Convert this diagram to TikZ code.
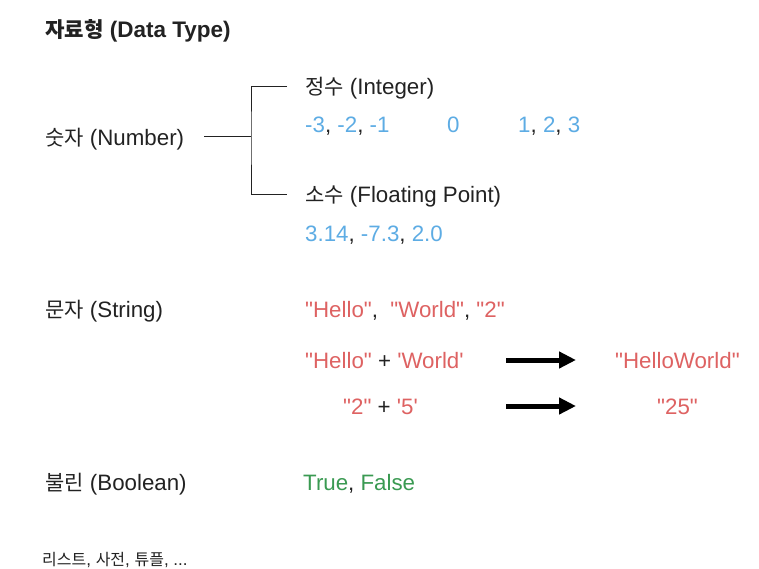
\documentclass[tikz,border=0pt]{standalone}
\usepackage{fontspec}
\setmainfont{Liberation Sans}
\newfontfamily\krfont{Noto Sans CJK KR}[Scale=0.94]
\newcommand\kor[1]{{\krfont #1}}
\newcommand\dq{\textquotedbl}
\newcommand\sq{\textquotesingle}
\usetikzlibrary{arrows.meta}
\definecolor{numblue}{RGB}{93,172,228}
\definecolor{strred}{RGB}{222,98,98}
\definecolor{boolgreen}{RGB}{58,154,82}
\definecolor{ink}{RGB}{34,34,34}
\begin{document}
\begin{tikzpicture}[x=1pt,y=-1pt,
  txt/.style={anchor=base west,inner sep=0pt,text=ink,font=\fontsize{22.3}{27}\selectfont},
  ttl/.style={txt,font=\fontsize{22.5}{27}\selectfont\bfseries},
  small/.style={txt,font=\fontsize{17}{20}\selectfont},
  tree/.style={draw=ink,line width=1pt},
  bigarrow/.style={draw=black,line width=5pt,-{Triangle[length=17pt,width=16pt]}}
]
\useasboundingbox[fill=white] (0,0) rectangle (759,568);

\node[ttl] (title) at (45,37) {\kor{자료형} (Data Type)};

% numbers
\node[txt] (num) at (45,145) {\kor{숫자} (Number)};
\node[txt] (int) at (305,94) {\kor{정수} (Integer)};
\node[txt] (intneg) at (305,132) {\textcolor{numblue}{-3}, \textcolor{numblue}{-2}, \textcolor{numblue}{-1}};
\node[txt] (intzero) at (447,132) {\textcolor{numblue}{0}};
\node[txt] (intpos) at (518,132) {\textcolor{numblue}{1}, \textcolor{numblue}{2}, \textcolor{numblue}{3}};
\node[txt] (flt) at (305,202) {\kor{소수} (Floating Point)};
\node[txt] (fltex) at (305,241) {\textcolor{numblue}{3.14}, \textcolor{numblue}{-7.3}, \textcolor{numblue}{2.0}};

\coordinate (jmid) at (251,136);
\coordinate (nstart) at (204,136);
\coordinate (jtop) at (287,86);
\coordinate (jbot) at (287,194);
\draw[tree] (nstart) -- (jmid);
\draw[tree] (jtop) -| (jmid) |- (jbot);

% strings
\node[txt] (str) at (45,317) {\kor{문자} (String)};
\node[txt] (strex) at (305,317) {\textcolor{strred}{\dq Hello\dq},\ \ \textcolor{strred}{\dq World\dq}, \textcolor{strred}{\dq 2\dq}};
\node[txt] (hw) at (305,368) {\textcolor{strred}{\dq Hello\dq} + \textcolor{strred}{\sq World\sq}};
\node[txt] (hwres) at (615,368) {\textcolor{strred}{\dq HelloWorld\dq}};
\node[txt] (tf) at (343,414) {\textcolor{strred}{\dq 2\dq} + \textcolor{strred}{\sq 5\sq}};
\node[txt] (tfres) at (657,414) {\textcolor{strred}{\dq 25\dq}};

\coordinate (a1s) at (506,360);
\coordinate (a1e) at (576,360);
\coordinate (a2s) at (506,406);
\coordinate (a2e) at (576,406);
\draw[bigarrow] (a1s) -- (a1e);
\draw[bigarrow] (a2s) -- (a2e);

% boolean
\node[txt] (bool) at (45,490) {\kor{불린} (Boolean)};
\node[txt] (boolex) at (303,490) {\textcolor{boolgreen}{True}, \textcolor{boolgreen}{False}};

\node[small] (more) at (42,565) {\kor{리스트}, \kor{사전}, \kor{튜플}, ...};
\end{tikzpicture}
\end{document}
